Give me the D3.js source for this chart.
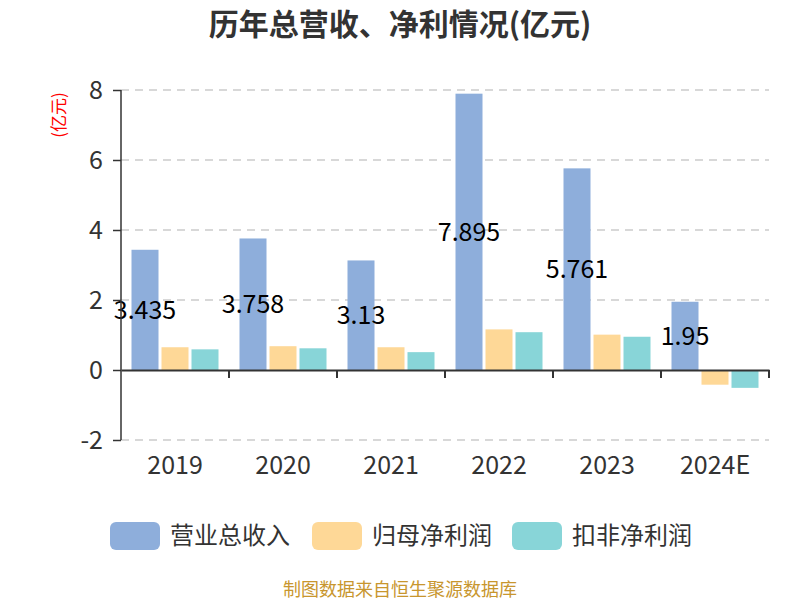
<!DOCTYPE html>
<html><head><meta charset="utf-8">
<script src="https://cdn.jsdelivr.net/npm/d3@7"></script>
<style>body{margin:0;background:#fff;}svg{display:block;font-family:"Noto Sans CJK SC","Noto Sans",sans-serif;}</style>
</head><body><svg id="c" width="800" height="600"></svg>
<script>
const categories = ["2019","2020","2021","2022","2023","2024E"];
const seriesNames = ["营业总收入","归母净利润","扣非净利润"];
const revenue = [3.435, 3.758, 3.13, 7.895, 5.761, 1.95];
const netProfit = [0.65, 0.68, 0.65, 1.16, 1.01, -0.42];
const deductedProfit = [0.59, 0.62, 0.51, 1.08, 0.95, -0.51];
const yTicks = [-2, 0, 2, 4, 6, 8];
const colors = ["#8eaedb", "#fed897", "#88d5d8"];

const svg = d3.select("#c");
const L = 121, R = 769, T = 90, B = 440;
const x = d3.scaleBand().domain(categories).range([L, R]);
const y = d3.scaleLinear().domain([-2, 8]).range([B, T]);
const series = [revenue, netProfit, deductedProfit];
const inner = d3.scaleBand().domain([0,1,2]).range([10.5, x.bandwidth()-10.5]).paddingInner(0.1);
const numFont = "'Noto Sans CJK SC','Open Sans',sans-serif";

svg.append("text").attr("x", 400).attr("y", 35).attr("text-anchor", "middle")
  .attr("font-size", 30).attr("font-weight", "bold").attr("fill", "#333").text("历年总营收、净利情况(亿元)");

// grid
svg.append("g").selectAll("line").data(yTicks.filter(d => d !== 0)).join("line")
  .attr("x1", L).attr("x2", R).attr("y1", d => y(d)).attr("y2", d => y(d))
  .attr("stroke", "#ccc").attr("stroke-width", 1.5).attr("stroke-dasharray", "8,6");

// bars
series.forEach((s, i) => {
  svg.append("g").selectAll("rect").data(s).join("rect")
    .attr("x", (d, j) => x(categories[j]) + inner(i))
    .attr("width", inner.bandwidth())
    .attr("y", d => y(Math.max(0, d)))
    .attr("height", d => Math.abs(y(d) - y(0)))
    .attr("fill", colors[i]);
});

// value labels
svg.append("g").selectAll("text").data(revenue).join("text")
  .attr("x", (d, j) => x(categories[j]) + inner(0) + inner.bandwidth()/2)
  .attr("y", d => (y(d) + y(0)) / 2)
  .attr("dy", "0.35em").attr("text-anchor", "middle")
  .attr("font-family", numFont)
  .attr("font-size", 25).attr("fill", "#000").text(d => d);

// y axis
const yAxis = svg.append("g").attr("transform", `translate(${L},0)`)
  .call(d3.axisLeft(y).tickValues(yTicks).tickSize(8).tickPadding(10).tickFormat(d => String(d)));
yAxis.selectAll("text").attr("font-size", 25).attr("fill", "#333").attr("font-family", numFont);
yAxis.selectAll("line").attr("stroke", "#333").attr("stroke-width", 1.5);
yAxis.select(".domain").attr("stroke", "#333").attr("stroke-width", 1.5).attr("d", `M0,${T}V${B}`);

// x axis
const xAxis = svg.append("g").attr("transform", `translate(0,${y(0)})`)
  .call(d3.axisBottom(x).tickSize(0));
xAxis.selectAll("text").attr("y", 95).attr("dy", "0.35em")
  .attr("font-size", 25).attr("fill", "#333").attr("font-family", numFont);
xAxis.select(".domain").attr("stroke", "#333").attr("stroke-width", 2);
svg.append("g").selectAll("line").data(categories).join("line")
  .attr("x1", d => x(d) + x.bandwidth()).attr("x2", d => x(d) + x.bandwidth())
  .attr("y1", y(0)).attr("y2", y(0) + 8).attr("stroke", "#333").attr("stroke-width", 2);

// unit label
svg.append("text").attr("transform", "translate(65,115) rotate(-90)")
  .attr("text-anchor", "middle").attr("font-size", 17).attr("fill", "red").text("(亿元)");

// legend
const legX = [110, 312, 512];
const lg = svg.append("g").selectAll("g").data(seriesNames).join("g")
  .attr("transform", (d, i) => `translate(${legX[i]},522)`);
lg.append("rect").attr("width", 50).attr("height", 28).attr("rx", 6).attr("fill", (d, i) => colors[i]);
lg.append("text").attr("x", 60).attr("y", 14).attr("dy", "0.35em").attr("font-size", 24).attr("fill", "#333").text(d => d);

svg.append("text").attr("x", 400).attr("y", 596).attr("text-anchor", "middle")
  .attr("font-size", 18).attr("fill", "#c8962e").text("制图数据来自恒生聚源数据库");
</script></body></html>
